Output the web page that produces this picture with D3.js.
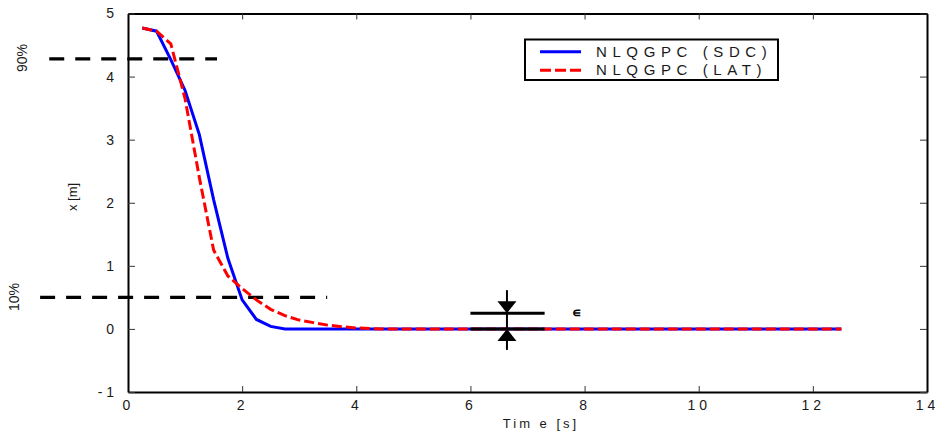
<!DOCTYPE html>
<html>
<head>
<meta charset="utf-8">
<script src="https://cdn.jsdelivr.net/npm/d3@7"></script>
<style>
  body { margin: 0; background: white; }
  svg { display: block; font-family: "Liberation Sans", Arial, sans-serif; }
</style>
</head>
<body>
<svg></svg>
<script>
//SET UP THE CANVAS
var w = 935;
var h = 437;
var plotLeft = 128, plotRight = 927, plotTop = 13.5, plotBottom = 392;

var svg = d3.select("svg")
     .attr("width", w)
     .attr("height", h);

//DATA
var timeSDC = [0.25, 0.5, 0.75, 1.0, 1.25, 1.5, 1.75, 2.0, 2.25, 2.5, 2.75, 3.0, 4.0, 5.0, 6.0, 7.0, 8.0, 9.0, 10.0, 11.0, 12.0, 12.5];
var xSDC    = [4.77, 4.72, 4.27, 3.78, 3.08, 2.05, 1.12, 0.46, 0.15, 0.04, 0.0, 0.0, 0.0, 0.0, 0.0, 0.0, 0.0, 0.0, 0.0, 0.0, 0.0, 0.0];

var timeLAT = [0.25, 0.5, 0.75, 1.0, 1.25, 1.5, 1.75, 2.0, 2.25, 2.5, 2.75, 3.0, 3.25, 3.5, 3.75, 4.0, 4.25, 4.5, 6.0, 8.0, 10.0, 12.0, 12.5];
var xLAT    = [4.77, 4.72, 4.52, 3.65, 2.4, 1.25, 0.84, 0.64, 0.46, 0.31, 0.21, 0.14, 0.1, 0.06, 0.035, 0.015, 0.005, 0.0, 0.0, 0.0, 0.0, 0.0, 0.0];

var xTicks = [0, 2, 4, 6, 8, 10, 12, 14];
var yTicks = [-1, 0, 1, 2, 3, 4, 5];

var seriesNames = ["NLQGPC (SDC)", "NLQGPC (LAT)"];
var seriesColors = ["#0000ff", "#ff0000"];

// 90% / 10% rise-time marks: [value, tStart, tEnd]
var rise90 = [4.28, -1.38, 1.56];
var rise10 = [0.5, -1.54, 3.49];

// epsilon band annotation
var epsBand = [0, 0.25];
var epsT = [6.0, 7.3];
var epsArrowT = 6.64;

//SCALES
var xScale = d3.scaleLinear().domain([0, 14]).range([plotLeft, plotRight]);
var yScale = d3.scaleLinear().domain([-1, 5]).range([plotBottom, plotTop]);

function spaced(d) {
     if (d < 0) return "- " + Math.abs(d);
     return String(d).split("").join(" ");
}

//AXES (ticks point inward, box all round)
var gx = svg.append("g")
     .attr("transform", "translate(0," + plotBottom + ")")
     .call(d3.axisBottom(xScale).tickValues(xTicks).tickSizeInner(-6).tickSizeOuter(0).tickPadding(8).tickFormat(spaced));
var gxTop = svg.append("g")
     .attr("transform", "translate(0," + plotTop + ")")
     .call(d3.axisTop(xScale).tickValues(xTicks).tickSizeInner(-6).tickSizeOuter(0).tickFormat(""));
var gy = svg.append("g")
     .attr("transform", "translate(" + plotLeft + ",0)")
     .call(d3.axisLeft(yScale).tickValues(yTicks).tickSizeInner(-7).tickSizeOuter(0).tickPadding(14).tickFormat(spaced));
var gyRight = svg.append("g")
     .attr("transform", "translate(" + plotRight + ",0)")
     .call(d3.axisRight(yScale).tickValues(yTicks).tickSizeInner(-7).tickSizeOuter(0).tickFormat(""));

[gx, gxTop, gy, gyRight].forEach(function (g) {
     g.select(".domain").attr("stroke", "#000").attr("stroke-width", 2);
     g.selectAll(".tick line").attr("stroke", "#333").attr("stroke-width", 1);
     g.selectAll(".tick text")
          .attr("font-size", 14)
          .attr("fill", "#1a1a1a")
          .style("font-family", "'Liberation Sans', Arial, sans-serif");
});
gx.selectAll(".tick text").attr("dx", -2);

//AXIS TITLES
svg.append("text")
     .attr("x", 541)
     .attr("y", 428)
     .attr("text-anchor", "middle")
     .attr("font-size", 13)
     .attr("fill", "#1a1a1a")
     .style("letter-spacing", "3px")
     .text("Tim e [s]");

svg.append("text")
     .attr("transform", "translate(77,197) rotate(-90)")
     .attr("text-anchor", "middle")
     .attr("font-size", 13)
     .attr("fill", "#1a1a1a")
     .text("x [m]");

svg.append("text")
     .attr("transform", "translate(27,58) rotate(-90)")
     .attr("text-anchor", "middle")
     .attr("font-size", 14)
     .attr("fill", "#1a1a1a")
     .text("90%");

svg.append("text")
     .attr("transform", "translate(19,297) rotate(-90)")
     .attr("text-anchor", "middle")
     .attr("font-size", 14)
     .attr("fill", "#1a1a1a")
     .text("10%");

//RISE-TIME DASHED LINES
[rise90, rise10].forEach(function (r) {
     svg.append("line")
          .attr("x1", xScale(r[1]))
          .attr("x2", xScale(r[2]))
          .attr("y1", yScale(r[0]))
          .attr("y2", yScale(r[0]))
          .attr("stroke", "#000")
          .attr("stroke-width", 3.2)
          .attr("stroke-dasharray", "15,11");
});

//DRAW LINES
var lineMaker = d3.line()
     .x(function (d) { return xScale(d[0]); })
     .y(function (d) { return yScale(d[1]); });

var sdcData = d3.zip(timeSDC, xSDC);
var latData = d3.zip(timeLAT, xLAT);

svg.append("path")
     .attr("d", lineMaker(sdcData))
     .attr("fill", "none")
     .attr("stroke", seriesColors[0])
     .attr("stroke-width", 3);

svg.append("path")
     .attr("d", lineMaker(latData))
     .attr("fill", "none")
     .attr("stroke", seriesColors[1])
     .attr("stroke-width", 3)
     .attr("stroke-dasharray", "10,4");

//EPSILON BAND
var eps = svg.append("g");
epsBand.forEach(function (v) {
     eps.append("line")
          .attr("x1", xScale(epsT[0]))
          .attr("x2", xScale(epsT[1]))
          .attr("y1", yScale(v))
          .attr("y2", yScale(v))
          .attr("stroke", "#000")
          .attr("stroke-width", 3);
});
var ax = xScale(epsArrowT);
eps.append("line")
     .attr("x1", ax).attr("x2", ax)
     .attr("y1", yScale(epsBand[1]) - 23)
     .attr("y2", yScale(epsBand[0]) + 21)
     .attr("stroke", "#000")
     .attr("stroke-width", 2);
var tri = d3.line();
eps.append("path")
     .attr("d", tri([[ax - 9.5, yScale(epsBand[1]) - 12], [ax + 9.5, yScale(epsBand[1]) - 12], [ax, yScale(epsBand[1])]]) + "Z")
     .attr("fill", "#000");
eps.append("path")
     .attr("d", tri([[ax - 9.5, yScale(epsBand[0]) + 12], [ax + 9.5, yScale(epsBand[0]) + 12], [ax, yScale(epsBand[0])]]) + "Z")
     .attr("fill", "#000");
eps.append("text")
     .attr("x", xScale(7.85))
     .attr("y", yScale(epsBand[1]) + 4)
     .attr("text-anchor", "middle")
     .attr("font-size", 13)
     .attr("font-weight", "bold")
     .text("\u220A");

//LEGEND
var legend = svg.append("g");
legend.append("rect")
     .attr("x", 525)
     .attr("y", 39.5)
     .attr("width", 253)
     .attr("height", 40.5)
     .attr("fill", "white")
     .attr("stroke", "#000")
     .attr("stroke-width", 2);
seriesNames.forEach(function (name, i) {
     var ly = 51.7 + i * 18.5;
     legend.append("line")
          .attr("x1", 540).attr("x2", 581)
          .attr("y1", ly).attr("y2", ly)
          .attr("stroke", seriesColors[i])
          .attr("stroke-width", 3)
          .attr("stroke-dasharray", i === 1 ? "11,4" : null);
     legend.append("text")
          .attr("x", 596)
          .attr("y", ly + 5)
          .attr("font-size", 15)
          .attr("fill", "#1a1a1a")
          .style("letter-spacing", "5.6px")
          .text(name);
});
</script>
</body>
</html>
